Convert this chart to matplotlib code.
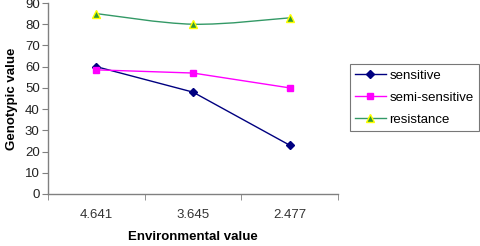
import matplotlib
matplotlib.use("Agg")
import matplotlib.pyplot as plt
from matplotlib.path import Path
from matplotlib.patches import PathPatch
from matplotlib.lines import Line2D
import numpy as np

plt.rcParams['font.family'] = ['Liberation Sans', 'DejaVu Sans']

categories = ["4.641", "3.645", "2.477"]
sensitive = [60, 48, 23]
semi_sensitive = [58.5, 57, 50]
resistance = [85, 80, 83]

fig = plt.figure(figsize=(4.81, 2.46), dpi=100)
ax = fig.add_axes([48/481, 1 - 194/246, 290/481, 191/246])

x = np.arange(len(categories))
ax.plot(x, sensitive, color='#000080', lw=1, marker='D', ms=4, mfc='#000080', mec='#000080', clip_on=False)
ax.plot(x, semi_sensitive, color='#FF00FF', lw=1, marker='s', ms=5, mfc='#FF00FF', mec='#FF00FF', clip_on=False)

# smoothed line (Catmull-Rom -> Bezier) for resistance
pts = np.column_stack([x, resistance]).astype(float)
verts = [tuple(pts[0])]
codes = [Path.MOVETO]
n = len(pts)
for i in range(n - 1):
    p0 = pts[i - 1] if i > 0 else pts[i]
    p1 = pts[i]
    p2 = pts[i + 1]
    p3 = pts[i + 2] if i + 2 < n else pts[i + 1]
    c1 = p1 + (p2 - p0) / 6.0
    c2 = p2 - (p3 - p1) / 6.0
    verts += [tuple(c1), tuple(c2), tuple(p2)]
    codes += [Path.CURVE4] * 3
ax.add_patch(PathPatch(Path(verts, codes), fill=False, edgecolor='#339966', lw=1))
ax.plot(x, resistance, ls='none', marker='^', ms=6, mfc='#339933', mec='#FFFF00', mew=1, clip_on=False)

ax.set_xlim(-0.5, 2.5)
ax.set_ylim(0, 90)
ax.set_yticks(range(0, 91, 10))
ax.set_xticks(x)
ax.set_xticklabels(categories)
ax.set_xticks([-0.5, 0.5, 1.5, 2.5], minor=True)
ax.tick_params(axis='x', which='major', length=0, pad=11, labelsize=9.5, colors='#333333')
ax.tick_params(axis='x', which='minor', length=4, direction='out', color='#808080')
ax.tick_params(axis='y', length=4, direction='out', color='#808080', labelsize=9.5, labelcolor='#222222', pad=2)
for s in ['top', 'right']:
    ax.spines[s].set_visible(False)
for s in ['left', 'bottom']:
    ax.spines[s].set_color('#808080')
    ax.spines[s].set_linewidth(1)

ax.set_ylabel('Genotypic value', fontsize=9.5, fontweight='bold', labelpad=5)
ax.set_xlabel('Environmental value', fontsize=9.5, fontweight='bold', labelpad=7)

handles = [
    Line2D([], [], color='#000080', lw=1, marker='D', ms=4),
    Line2D([], [], color='#FF00FF', lw=1, marker='s', ms=5),
    Line2D([], [], color='#339966', lw=1, marker='^', ms=6, mfc='#339933', mec='#FFFF00'),
]
leg = fig.legend(handles, ['sensitive', 'semi-sensitive', 'resistance'],
                 loc='upper left', bbox_to_anchor=(350/481, 1 - 64/246),
                 fontsize=9.5, frameon=True, fancybox=False, edgecolor='#555555',
                 handlelength=2.3, borderpad=0.4, labelspacing=0.75, handletextpad=0.3,
                 borderaxespad=0)
leg.get_frame().set_linewidth(0.8)

fig.savefig('out.png', dpi=100)
